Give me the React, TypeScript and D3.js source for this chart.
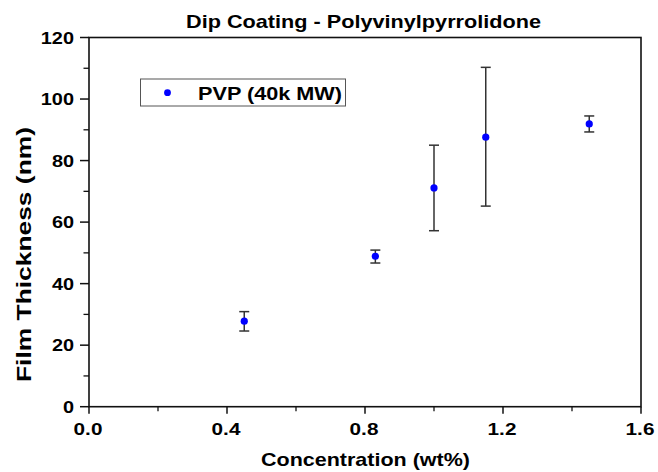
import React from "react";
import * as d3 from "d3";

const concentration = [0.45, 0.83, 1.0, 1.15, 1.45];
const thickness = [27.8, 48.9, 71.1, 87.6, 91.9];
const errLow = [24.6, 46.7, 57.2, 65.2, 89.3];
const errHigh = [30.9, 50.9, 85.0, 110.3, 94.5];
const xTicks = [0.0, 0.4, 0.8, 1.2, 1.6];
const xMinor = [0.2, 0.6, 1.0, 1.4];
const yTicks = [0, 20, 40, 60, 80, 100, 120];
const yMinor = [10, 30, 50, 70, 90, 110];
const seriesName = "PVP (40k MW)";
const titleText = "Dip Coating - Polyvinylpyrrolidone";
const xLabel = "Concentration (wt%)";
const yLabel = "Film Thickness (nm)";

const W = 658;
const H = 472;
const font = "'Liberation Sans', Arial, sans-serif";

export default function App() {
  const x = d3.scaleLinear().domain([0, 1.6]).range([89, 641]);
  const y = d3.scaleLinear().domain([0, 120]).range([406.7, 37.5]);
  const [x0, x1] = x.range();
  const [y0, y1] = y.range();
  const cap = 5;
  return (
    <svg width={W} height={H} style={{ position: "absolute", left: 0, top: 0 }}>
      <rect x={0} y={0} width={W} height={H} fill="#fff" />
      <text
        x={186}
        y={28}
        textLength={355}
        lengthAdjust="spacingAndGlyphs"
        fontFamily={font}
        fontWeight="bold"
        fontSize={19}
      >
        {titleText}
      </text>
      {/* frame */}
      <rect x={x0} y={y1} width={x1 - x0} height={y0 - y1} fill="none" stroke="#111" strokeWidth={1.6} />
      {/* y ticks */}
      {yTicks.map((t) => (
        <g key={"y" + t}>
          <line x1={x0 - 9} x2={x0} y1={y(t)} y2={y(t)} stroke="#111" strokeWidth={1.5} />
          <text
            transform={`translate(${x0 - 15},${y(t)}) scale(1.17,1)`}
            dy="0.36em"
            textAnchor="end"
            fontFamily={font}
            fontWeight="bold"
            fontSize={17}
          >
            {t}
          </text>
        </g>
      ))}
      {yMinor.map((t) => (
        <line key={"ym" + t} x1={x0 - 5.5} x2={x0} y1={y(t)} y2={y(t)} stroke="#111" strokeWidth={1.3} />
      ))}
      {/* x ticks */}
      {xTicks.map((t) => (
        <g key={"x" + t}>
          <line x1={x(t)} x2={x(t)} y1={y0} y2={y0 + 7} stroke="#111" strokeWidth={1.5} />
          <text
            transform={`translate(${x(t) - 1},435) scale(1.22,1)`}
            textAnchor="middle"
            fontFamily={font}
            fontWeight="bold"
            fontSize={17}
          >
            {t.toFixed(1)}
          </text>
        </g>
      ))}
      {xMinor.map((t) => (
        <line key={"xm" + t} x1={x(t)} x2={x(t)} y1={y0} y2={y0 + 4.5} stroke="#111" strokeWidth={1.3} />
      ))}
      {/* axis titles */}
      <text
        x={261}
        y={466}
        textLength={209}
        lengthAdjust="spacingAndGlyphs"
        fontFamily={font}
        fontWeight="bold"
        fontSize={19}
      >
        {xLabel}
      </text>
      <text
        transform={`translate(31,382) rotate(-90)`}
        textLength={255}
        lengthAdjust="spacingAndGlyphs"
        fontFamily={font}
        fontWeight="bold"
        fontSize={20.5}
      >
        {yLabel}
      </text>
      {/* error bars */}
      {concentration.map((c, i) => (
        <g key={"e" + i} stroke="#333" strokeWidth={1.5}>
          <line x1={x(c)} x2={x(c)} y1={y(errLow[i])} y2={y(errHigh[i])} />
          <line x1={x(c) - cap} x2={x(c) + cap} y1={y(errLow[i])} y2={y(errLow[i])} />
          <line x1={x(c) - cap} x2={x(c) + cap} y1={y(errHigh[i])} y2={y(errHigh[i])} />
        </g>
      ))}
      {/* points */}
      {concentration.map((c, i) => (
        <circle key={"p" + i} cx={x(c)} cy={y(thickness[i])} r={3.6} fill="#0000ff" />
      ))}
      {/* legend */}
      <rect x={140.5} y={79} width={205} height={27} fill="#fff" stroke="#555" strokeWidth={1} />
      <circle cx={167.5} cy={92.7} r={3.4} fill="#0000ff" />
      <text
        x={198}
        y={92.7}
        dy="0.36em"
        textLength={144}
        lengthAdjust="spacingAndGlyphs"
        fontFamily={font}
        fontWeight="bold"
        fontSize={19}
      >
        {seriesName}
      </text>
    </svg>
  );
}
